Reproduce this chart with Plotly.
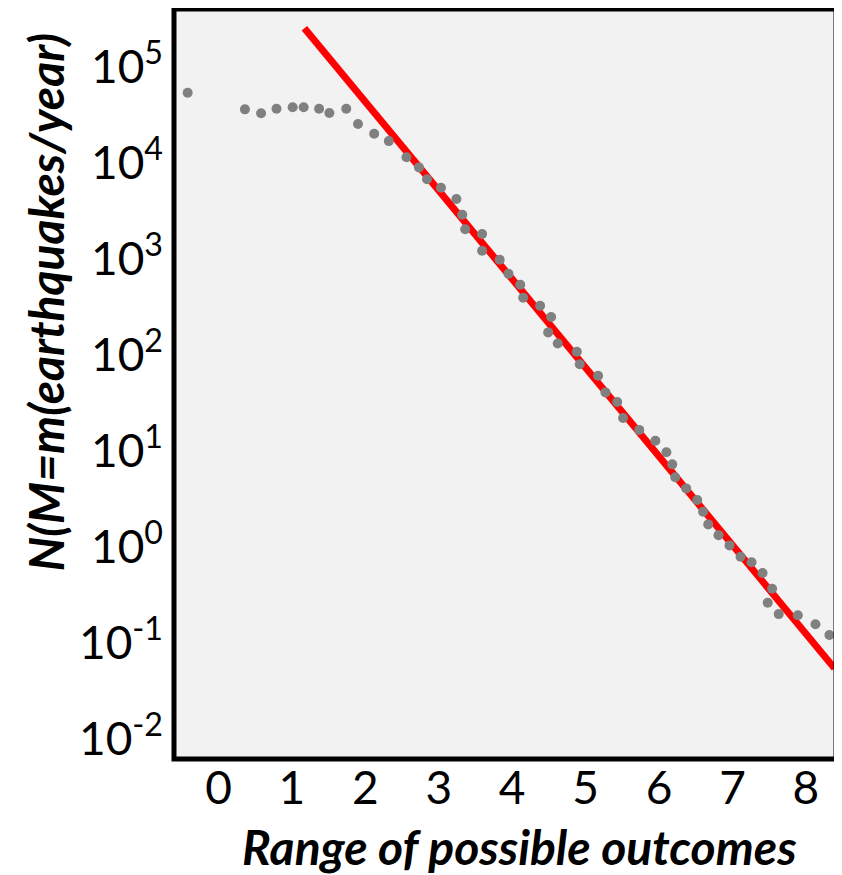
import plotly.graph_objects as go

# Observed magnitudes (x) and annual counts (y)
mag = [-0.42, 0.36, 0.58, 0.79, 1.01, 1.16, 1.37, 1.51, 1.74, 1.90, 2.12, 2.32, 2.56, 2.73,
       2.84, 3.03, 3.24, 3.32, 3.36, 3.59, 3.59, 3.83, 3.95, 4.11, 4.15, 4.38, 4.53, 4.49,
       4.62, 4.88, 4.92, 5.17, 5.27, 5.43, 5.51, 5.73, 5.95, 6.10, 6.18, 6.22, 6.37, 6.52,
       6.60, 6.67, 6.81, 6.96, 7.11, 7.26, 7.41, 7.54, 7.48, 7.63, 7.89, 8.13, 8.32]
count = [54000, 36200, 33000, 36800, 38000, 38000, 36800, 33200, 36800, 25500, 20200, 16900,
         11500, 9000, 6760, 5530, 4220, 2890, 2040, 1820, 1220, 984, 703, 540, 395, 326, 249,
         172, 132, 108, 80, 60.8, 40.8, 32.4, 22.1, 16.6, 12.8, 9.69, 7.26, 5.32, 4.08, 3.09,
         2.33, 1.72, 1.33, 1.04, 0.793, 0.693, 0.536, 0.368, 0.263, 0.200, 0.195, 0.157, 0.121]

# Fitted Gutenberg-Richter line (endpoints)
fit_x = [1.17, 8.39]
fit_y = [253000, 0.0546]

x_ticks = [0, 1, 2, 3, 4, 5, 6, 7, 8]
y_ticks = [1e-2, 1e-1, 1e0, 1e1, 1e2, 1e3, 1e4, 1e5]
y_ticktext = ["10<sup>-2</sup>", "10<sup>-1</sup>", "10<sup>0</sup>", "10<sup>1</sup>",
              "10<sup>2</sup>", "10<sup>3</sup>", "10<sup>4</sup>", "10<sup>5</sup>"]

x_title = "Range of possible outcomes"
y_title = "N(M=m(earthquakes/year)"

fig = go.Figure()
fig.add_trace(go.Scatter(x=fit_x, y=fit_y, mode="lines",
                         line=dict(color="#ff0000", width=7), showlegend=False,
                         hoverinfo="skip"))
fig.add_trace(go.Scatter(x=mag, y=count, mode="markers",
                         marker=dict(color="#808080", size=10), showlegend=False))

tick_font = dict(family="Lato", size=46, color="#000000")
title_font = dict(family="Lato", size=48, color="#000000")

# the page body has an 8px margin; the figure is sized to sit inside 842x875
fig.update_layout(
    width=834, height=867,
    margin=dict(l=166, r=6, t=1, b=116),
    paper_bgcolor="#ffffff",
    plot_bgcolor="#f2f2f2",
    xaxis=dict(range=[-0.606, 8.41], tickvals=x_ticks, showgrid=False, zeroline=False,
               showline=False, ticks="", tickfont=tick_font, ticklabelstandoff=-2),
    yaxis=dict(type="log", range=[-2.208, 5.604], tickvals=y_ticks, ticktext=y_ticktext,
               showgrid=False, zeroline=False, showline=False, ticks="",
               tickfont=tick_font, ticklabelstandoff=10),
    shapes=[dict(type="rect", xref="paper", yref="paper", x0=0, x1=1, y0=0, y1=1,
                 line=dict(color="#000000", width=5), fillcolor="rgba(0,0,0,0)")],
    annotations=[
        dict(text="<b><i>%s</i></b>" % x_title, xref="paper", yref="paper",
             x=0.522, y=-0.117, showarrow=False, font=title_font,
             xanchor="center", yanchor="middle"),
        dict(text="<b><i>%s</i></b>" % y_title, xref="paper", yref="paper",
             x=-0.195, y=0.609, showarrow=False, font=title_font, textangle=-90,
             xanchor="center", yanchor="middle"),
    ],
)

fig.write_html("out.html")
